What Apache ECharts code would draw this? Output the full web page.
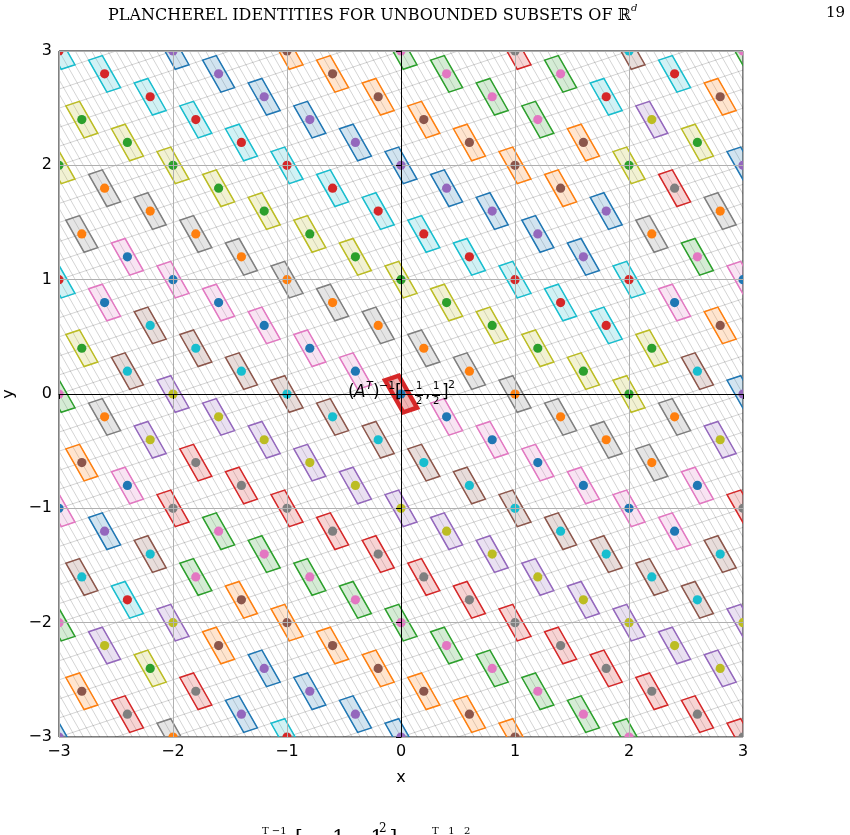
<!DOCTYPE html>
<html>
<head>
<meta charset="utf-8">
<script src="https://cdn.jsdelivr.net/npm/echarts@6/dist/echarts.min.js"></script>
<style>
  html, body { margin: 0; padding: 0; background: #fff; }
  #chart { width: 850px; height: 835px; }
</style>
</head>
<body>
<div id="chart"></div>
<script>
  // centres: k1*gen1 + k2*gen2 (k1 outer loop, k2 inner loop), kept inside the window
  var gen1 = [0.4, -0.2];
  var gen2 = [-0.2, 0.6];
  var kRange = [-20, 20];
  var windowHalf = 3;
  // cell (A^T)^{-1}[-1/2,1/2]^2, A^T = [[7,4],[1,-3]]
  var cellU = [0.12, 0.04];
  var cellV = [0.16, -0.28];
  // gray guide lines: 7x+4y = c and x-3y = c
  var guideStep = 0.5;
  var tab10 = ['#1f77b4','#ff7f0e','#2ca02c','#d62728','#9467bd',
               '#8c564b','#e377c2','#7f7f7f','#bcbd22','#17becf'];
  var dotShift = 4;

  function rgba(hex, a) {
    var r = parseInt(hex.substr(1,2),16), g = parseInt(hex.substr(3,2),16), b = parseInt(hex.substr(5,2),16);
    return 'rgba(' + r + ',' + g + ',' + b + ',' + a + ')';
  }

  var cells = [];
  var count = 0;
  for (var k1 = kRange[0]; k1 <= kRange[1]; k1++) {
    for (var k2 = kRange[0]; k2 <= kRange[1]; k2++) {
      var x = k1*gen1[0] + k2*gen2[0];
      var y = k1*gen1[1] + k2*gen2[1];
      if (Math.abs(x) > windowHalf + 1e-9 || Math.abs(y) > windowHalf + 1e-9) continue;
      cells.push([+x.toFixed(4), +y.toFixed(4), count % 10, (k1 === 0 && k2 === 0) ? 1 : 0]);
      count++;
    }
  }

  var guides = [];
  for (var k = -80; k <= 80; k++) {
    var c = k*guideStep;
    guides.push([(c + 16)/7, -4, (c - 16)/7, 4]);   // 7x + 4y = c
    guides.push([-4, (-4 - c)/3, 4, (4 - c)/3]);    // x - 3y = c
  }

  var corners = [[-1,-1],[1,-1],[1,1],[-1,1]].map(function (s) {
    return [s[0]*cellU[0]/2 + s[1]*cellV[0]/2, s[0]*cellU[1]/2 + s[1]*cellV[1]/2];
  });

  var chart = echarts.init(document.getElementById('chart'));
  var axisText = {color: '#000', fontSize: 16, fontFamily: 'DejaVu Sans', margin: 7,
                  formatter: function (v) { return v < 0 ? '\u2212' + (-v) : '' + v; }};
  var option = {
    animation: false,
    grid: {left: 59, right: 107, top: 51, bottom: 98, outerBoundsMode: 'none', containLabel: false,
           show: true, borderColor: '#000', borderWidth: 1},
    xAxis: {
      type: 'value', min: -3, max: 3, interval: 1, z: 10,
      name: 'x', nameLocation: 'middle', nameGap: 33,
      nameTextStyle: {color: '#000', fontSize: 16, fontFamily: 'DejaVu Sans'},
      axisLine: {lineStyle: {color: '#000', width: 1}},
      axisTick: {length: 5, lineStyle: {color: '#000'}},
      axisLabel: axisText,
      splitLine: {show: true, lineStyle: {color: '#b0b0b0', width: 1}}
    },
    yAxis: {
      type: 'value', min: -3, max: 3, interval: 1, z: 10,
      name: 'y', nameLocation: 'middle', nameGap: 42,
      nameTextStyle: {color: '#000', fontSize: 16, fontFamily: 'DejaVu Sans'},
      axisLine: {lineStyle: {color: '#000', width: 1}},
      axisTick: {length: 5, lineStyle: {color: '#000'}},
      axisLabel: axisText,
      splitLine: {show: true, lineStyle: {color: '#b0b0b0', width: 1}}
    },
    series: [
      {
        type: 'custom', name: 'guides', clip: true, z: 1, silent: true,
        data: guides,
        renderItem: function (params, api) {
          var a = api.coord([api.value(0), api.value(1)]);
          var b = api.coord([api.value(2), api.value(3)]);
          return {type: 'line', shape: {x1: a[0], y1: a[1], x2: b[0], y2: b[1]},
                  style: {stroke: 'rgba(0,0,0,0.22)', lineWidth: 0.8}};
        }
      },
      {
        type: 'custom', name: 'cells', clip: true, z: 2,
        data: cells,
        renderItem: function (params, api) {
          var cx = api.value(0), cy = api.value(1);
          var col = tab10[api.value(2)];
          var hot = api.value(3) === 1;
          var pts = corners.map(function (d) { return api.coord([cx + d[0], cy + d[1]]); });
          if (hot) {
            return {type: 'polygon', z2: 50, shape: {points: pts},
                    style: {fill: rgba('#d62728', 0.35), stroke: '#d62728', lineWidth: 4.5}};
          }
          return {type: 'polygon', shape: {points: pts},
                  style: {fill: rgba(col, 0.2), stroke: col, lineWidth: 1.5}};
        }
      },
      {
        type: 'custom', name: 'points', clip: true, z: 3,
        data: cells,
        renderItem: function (params, api) {
          var p = api.coord([api.value(0), api.value(1)]);
          return {type: 'circle', z2: 60, shape: {cx: p[0], cy: p[1], r: 4.6},
                  style: {fill: tab10[(api.value(2) + dotShift) % 10]}};
        }
      }
    ],
    graphic: [
      {type: 'text', left: 108, top: 3, style: {
        text: '{n|PLANCHEREL IDENTITIES FOR UNBOUNDED SUBSETS OF \u211D}{d|d}',
        rich: {
          n: {fontFamily: 'DejaVu Serif', fontSize: 16, fill: '#000', lineHeight: 21, verticalAlign: 'bottom'},
          d: {fontFamily: 'DejaVu Serif', fontStyle: 'italic', fontSize: 10, fill: '#000', lineHeight: 21, verticalAlign: 'top'}
        }}},
      {type: 'text', left: 826, top: 6, style: {text: '19', fontFamily: 'DejaVu Serif', fontSize: 15, fill: '#000'}},
      // label of the highlighted cell
      {type: 'text', z: 100, left: 348, top: 384, style: {text: '(', fontFamily: 'DejaVu Sans', fontSize: 17, fill: '#000'}},
      {type: 'text', z: 100, left: 354, top: 384, style: {text: 'A', fontFamily: 'DejaVu Sans', fontStyle: 'oblique', fontSize: 17, fill: '#000'}},
      {type: 'text', z: 100, left: 366, top: 381, style: {text: 'T', fontFamily: 'DejaVu Sans', fontStyle: 'oblique', fontSize: 11, fill: '#000'}},
      {type: 'text', z: 100, left: 373, top: 384, style: {text: ')', fontFamily: 'DejaVu Sans', fontSize: 17, fill: '#000'}},
      {type: 'text', z: 100, left: 379, top: 381, style: {text: '\u22121', fontFamily: 'DejaVu Sans', fontSize: 11, fill: '#000'}},
      {type: 'text', z: 100, left: 395, top: 384, style: {text: '[', fontFamily: 'DejaVu Sans', fontSize: 17, fill: '#000'}},
      {type: 'text', z: 100, left: 403, top: 384, style: {text: '\u2212', fontFamily: 'DejaVu Sans', fontSize: 14, fill: '#000'}},
      {type: 'text', z: 100, left: 416, top: 381, style: {text: '1', fontFamily: 'DejaVu Sans', fontSize: 10, fill: '#000'}},
      {type: 'text', z: 100, left: 416, top: 396, style: {text: '2', fontFamily: 'DejaVu Sans', fontSize: 10, fill: '#000'}},
      {type: 'text', z: 100, left: 425, top: 384, style: {text: ',', fontFamily: 'DejaVu Sans', fontSize: 17, fill: '#000'}},
      {type: 'text', z: 100, left: 433, top: 381, style: {text: '1', fontFamily: 'DejaVu Sans', fontSize: 10, fill: '#000'}},
      {type: 'text', z: 100, left: 433, top: 396, style: {text: '2', fontFamily: 'DejaVu Sans', fontSize: 10, fill: '#000'}},
      {type: 'text', z: 100, left: 442, top: 384, style: {text: ']', fontFamily: 'DejaVu Sans', fontSize: 17, fill: '#000'}},
      {type: 'text', z: 100, left: 448, top: 380, style: {text: '2', fontFamily: 'DejaVu Sans', fontSize: 11, fill: '#000'}},
      {type: 'line', z: 100, shape: {x1: 415, y1: 395.5, x2: 423, y2: 395.5}, style: {stroke: '#000', lineWidth: 1}},
      {type: 'line', z: 100, shape: {x1: 432, y1: 395.5, x2: 440, y2: 395.5}, style: {stroke: '#000', lineWidth: 1}},
      // top of the formula under the figure (cut by the page edge)
      {type: 'text', left: 262, top: 826, style: {text: 'T \u22121', fontFamily: 'DejaVu Serif', fontSize: 10, fill: '#000'}},
      {type: 'text', left: 295, top: 829, style: {text: '[ \u2212 1    1 ]', fontFamily: 'DejaVu Serif', fontSize: 20, fill: '#000'}},
      {type: 'text', left: 379, top: 823, style: {text: '2', fontFamily: 'DejaVu Serif', fontSize: 12, fill: '#000'}},
      {type: 'text', left: 432, top: 826, style: {text: 'T   1   2', fontFamily: 'DejaVu Serif', fontSize: 10, fill: '#000'}}
    ]
  };
  chart.setOption(option);
</script>
</body>
</html>
